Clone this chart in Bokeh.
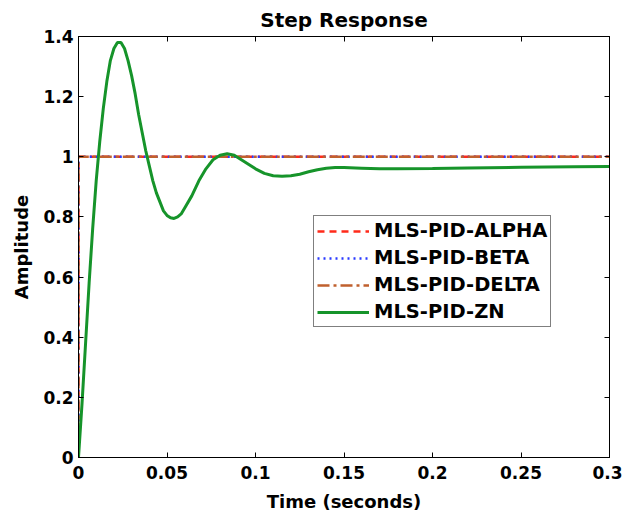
from bokeh.plotting import figure
from bokeh.models import LinearAxis, FixedTicker, Legend, LegendItem, Range1d
from bokeh.embed import file_html
from bokeh.resources import INLINE

# ---- data ----
t_step = [0.0, 0.0, 0.3]
y_alpha = [0.0, 1.0, 1.0]
y_beta = [0.0, 1.0, 1.0]
y_delta = [0.0, 1.0, 1.0]

t_zn = [0.0, 0.002, 0.004, 0.006, 0.008, 0.010, 0.012, 0.014, 0.016, 0.018,
        0.020, 0.022, 0.024, 0.026, 0.028, 0.030, 0.032, 0.034, 0.036, 0.038,
        0.040, 0.042, 0.044, 0.046, 0.048, 0.050, 0.052, 0.054, 0.056, 0.058,
        0.060, 0.064, 0.068, 0.072, 0.076, 0.080, 0.084, 0.088, 0.092, 0.096,
        0.100, 0.105, 0.110, 0.115, 0.120, 0.125, 0.130, 0.135, 0.140, 0.145,
        0.150, 0.160, 0.170, 0.180, 0.200, 0.220, 0.250, 0.280, 0.300]
y_zn = [0.0, 0.18, 0.38, 0.58, 0.76, 0.92, 1.05, 1.16, 1.25, 1.32,
        1.36, 1.38, 1.38, 1.36, 1.32, 1.27, 1.21, 1.14, 1.08, 1.02,
        0.97, 0.92, 0.88, 0.85, 0.82, 0.805, 0.797, 0.795, 0.80, 0.81,
        0.83, 0.87, 0.92, 0.96, 0.99, 1.005, 1.01, 1.005, 0.99, 0.975,
        0.96, 0.945, 0.937, 0.935, 0.937, 0.942, 0.950, 0.957, 0.962, 0.964,
        0.964, 0.962, 0.960, 0.960, 0.961, 0.963, 0.965, 0.967, 0.968]

x_ticks = [0, 0.05, 0.1, 0.15, 0.2, 0.25, 0.3]
x_tick_labels = ["0", "0.05", "0.1", "0.15", "0.2", "0.25", "0.3"]
y_ticks = [0, 0.2, 0.4, 0.6, 0.8, 1.0, 1.2, 1.4]
y_tick_labels = ["0", "0.2", "0.4", "0.6", "0.8", "1", "1.2", "1.4"]
series_names = ["MLS-PID-ALPHA", "MLS-PID-BETA", "MLS-PID-DELTA", "MLS-PID-ZN"]

FONT = "DejaVu Sans"

p = figure(width=622, height=514, output_backend="svg", toolbar_location=None,
           x_range=Range1d(0, 0.3), y_range=Range1d(0, 1.4),
           min_border_left=78, min_border_right=13, min_border_top=36,
           min_border_bottom=53, title="Step Response")
p.title.align = "center"
p.title.text_font = FONT
p.title.text_font_size = "20px"
p.title.text_font_style = "bold"
p.title.text_color = "black"
p.title.offset = 0
p.title.standoff = 9

p.grid.visible = False
p.outline_line_color = "black"
p.outline_line_width = 1
p.background_fill_color = "white"
p.border_fill_color = "white"

bottom_axis = p.below[0]
left_axis = p.left[0]
bottom_axis.ticker = FixedTicker(ticks=x_ticks)
bottom_axis.major_label_overrides = dict(zip(x_ticks, x_tick_labels))
left_axis.ticker = FixedTicker(ticks=y_ticks)
left_axis.major_label_overrides = dict(zip(y_ticks, y_tick_labels))

right_axis = LinearAxis(ticker=FixedTicker(ticks=y_ticks),
                        major_label_overrides={v: "" for v in y_ticks})
top_axis = LinearAxis(ticker=FixedTicker(ticks=x_ticks),
                      major_label_overrides={v: "" for v in x_ticks})
p.add_layout(right_axis, "right")
p.add_layout(top_axis, "above")

for ax in [bottom_axis, left_axis, right_axis, top_axis]:
    ax.major_tick_in = 5
    ax.major_tick_out = 0
    ax.minor_tick_in = 0
    ax.minor_tick_out = 0
    ax.axis_line_color = "black"
    ax.major_tick_line_color = "black"
    ax.major_label_text_font = FONT
    ax.major_label_text_font_style = "bold"
    ax.major_label_text_font_size = "17px"
    ax.major_label_text_color = "black"
    ax.axis_label_text_font = FONT
    ax.axis_label_text_font_style = "bold"
    ax.axis_label_text_font_size = "18px"
    ax.axis_label_text_color = "black"

right_axis.major_label_standoff = 0
top_axis.major_label_standoff = 0
bottom_axis.major_label_standoff = 8
left_axis.major_label_standoff = 5

bottom_axis.axis_label = "Time (seconds)"
left_axis.axis_label = "Amplitude"
bottom_axis.axis_label_standoff = 9
left_axis.axis_label_standoff = 8

r_alpha = p.line(t_step, y_alpha, line_color="#FF2A1A", line_width=2.5, line_dash="7 5")
r_beta = p.line(t_step, y_beta, line_color="#2A3AFF", line_width=2.5, line_dash="2 4")
r_delta = p.line(t_step, y_delta, line_color="#C0602E", line_width=2.5, line_dash="12 4 3 4")
r_zn = p.line(t_zn, y_zn, line_color="#16942A", line_width=3)

legend = Legend(items=[
    LegendItem(label=series_names[0], renderers=[r_alpha]),
    LegendItem(label=series_names[1], renderers=[r_beta]),
    LegendItem(label=series_names[2], renderers=[r_delta]),
    LegendItem(label=series_names[3], renderers=[r_zn]),
], location=(235, 130))
legend.label_text_font = FONT
legend.label_text_font_style = "bold"
legend.label_text_font_size = "19.5px"
legend.label_text_color = "black"
legend.glyph_width = 52
legend.glyph_height = 20
legend.label_height = 22
legend.label_standoff = 5
legend.spacing = 4
legend.padding = 3
legend.margin = 0
legend.border_line_color = "black"
legend.border_line_width = 1
legend.background_fill_color = "white"
legend.background_fill_alpha = 1
p.add_layout(legend, "center")

open("out.html", "w").write(file_html(p, INLINE))
